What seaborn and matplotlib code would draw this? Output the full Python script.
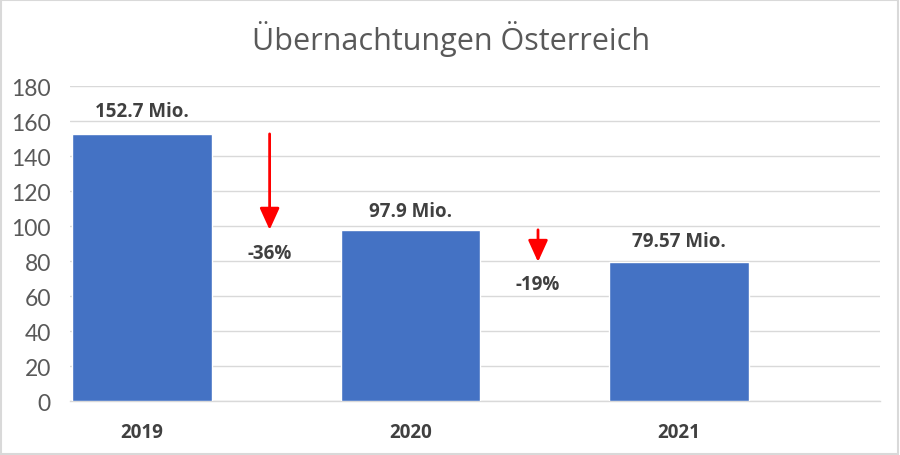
import matplotlib
matplotlib.use("Agg")
import matplotlib.pyplot as plt
import seaborn as sns
import pandas as pd
from matplotlib.patches import Rectangle

years = ["2019", "2020", "2021"]
values = [152.7, 97.9, 79.57]
value_labels = ["152.7 Mio.", "97.9 Mio.", "79.57 Mio."]
change_labels = ["-36%", "-19%"]
y_ticks = [0, 20, 40, 60, 80, 100, 120, 140, 160, 180]
title = "Übernachtungen Österreich"

df = pd.DataFrame({"Jahr": years, "Wert": values})

sns.set_theme(style="white")
plt.rcParams["font.family"] = ["Open Sans", "DejaVu Sans"]

fig = plt.figure(figsize=(9, 4.56), dpi=100)
ax = fig.add_axes([0.078, 0.118, 0.900, 0.691])

sns.barplot(data=df, x="Jahr", y="Wert", color="#4472C4", width=0.52,
            saturation=1, ax=ax, zorder=3)

ax.set_xlim(-0.268, 2.75)
ax.set_ylim(0, 180)
ax.set_yticks(y_ticks)
ax.set_yticklabels([str(t) for t in y_ticks], fontsize=16.5, color="#595959",
                   family=["Lato", "DejaVu Sans"])
ax.tick_params(axis="y", length=0, pad=14)
ax.tick_params(axis="x", length=0, pad=15)
for lab in ax.get_xticklabels():
    lab.set_fontsize(13.5)
    lab.set_fontweight("bold")
    lab.set_color("#404040")
ax.set_xlabel("")
ax.set_ylabel("")
ax.grid(axis="y", color="#d9d9d9", linewidth=1, zorder=0)
for s in ["left", "right", "top"]:
    ax.spines[s].set_visible(False)
ax.spines["bottom"].set_color("#d9d9d9")
ax.spines["bottom"].set_linewidth(1)

offsets = [13, 11, 12]
for i, (v, lab) in enumerate(zip(values, value_labels)):
    ax.text(i, v + offsets[i], lab, ha="center", va="center", fontsize=13.5,
            fontweight="bold", color="#404040")

# change arrows between years
arrow_x = [0.475, 1.475]
text_y = [84.6, 66.9]
for k in range(2):
    ax.annotate("", xy=(arrow_x[k], values[k + 1]), xytext=(arrow_x[k], values[k]),
                arrowprops=dict(arrowstyle="-|>,head_length=1.1,head_width=0.5",
                                color="#FF0000", lw=2.0, shrinkA=0, shrinkB=0),
                zorder=4)
    ax.text(arrow_x[k], text_y[k], change_labels[k], ha="center", va="center",
            fontsize=13.5, fontweight="bold", color="#404040")

fig.text(0.501, 0.915, title, ha="center", va="center", fontsize=22,
         color="#595959")

fig.patches.append(Rectangle((0.001, 0.002), 0.997, 0.995, transform=fig.transFigure,
                             fill=False, edgecolor="#d9d9d9", linewidth=1.5))

fig.savefig("out.png", dpi=100)
